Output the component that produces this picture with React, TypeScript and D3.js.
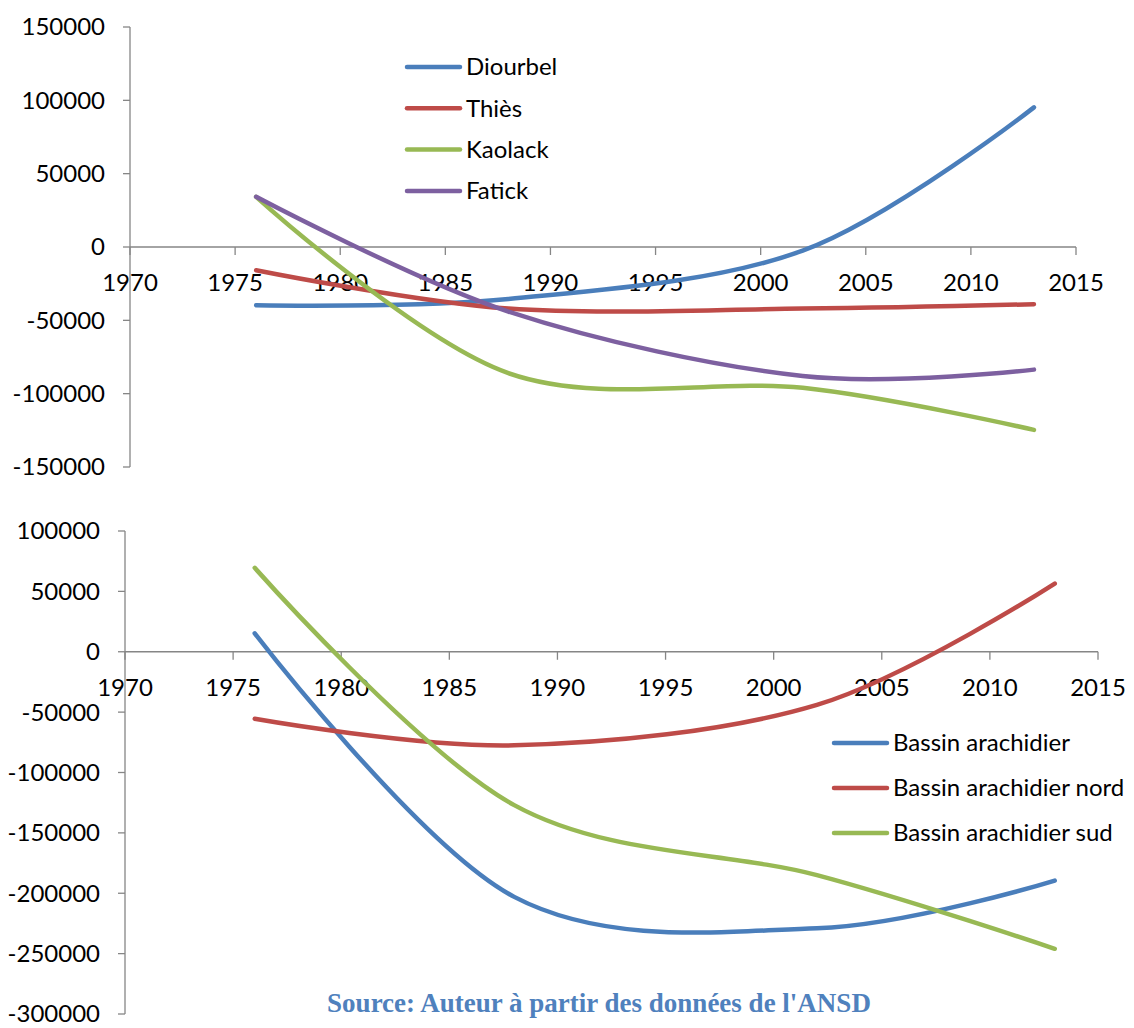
import * as React from 'react';
import { scaleLinear, line as d3line, curveCardinal } from 'd3';

// census years
const years = [1976, 1988, 2002, 2013];

// top panel: regions
const diourbel = [-39700, -35500, -2500, 95200];
const thies = [-15800, -42000, -42000, -39000];
const kaolack = [34200, -86000, -96000, -124700];
const fatick = [34200, -44000, -88000, -83600];

// bottom panel: basins
const bassin = [15300, -203000, -229000, -189500];
const bassinNord = [-55500, -77500, -44000, 56500];
const bassinSud = [69500, -127000, -185000, -246000];

const xTicks = [1970, 1975, 1980, 1985, 1990, 1995, 2000, 2005, 2010, 2015];
const topYTicks = [150000, 100000, 50000, 0, -50000, -100000, -150000];
const bottomYTicks = [100000, 50000, 0, -50000, -100000, -150000, -200000, -250000, -300000];

const BLUE = '#4a7ebb';
const RED = '#be4b48';
const GREEN = '#98b954';
const PURPLE = '#7d60a0';

const AXIS = '#868686';
const FONT = 'Lato, "Open Sans", sans-serif';
const FS = 24;

interface Series { name: string; values: number[]; color: string }

interface PanelProps {
  series: Series[];
  yDomain: [number, number];
  yRange: [number, number];
  xRange: [number, number];
  yTicks: number[];
  legendX: number;
  legendY: number;
  legendStep: number;
}

function Panel({ series, yDomain, yRange, xRange, yTicks, legendX, legendY, legendStep }: PanelProps) {
  const x = scaleLinear().domain([1970, 2015]).range(xRange);
  const y = scaleLinear().domain(yDomain).range(yRange);
  const x0 = x(1970);
  const y0 = y(0);
  const path = d3line<number>()
    .x((_, i) => x(years[i]))
    .y(v => y(v))
    .curve(curveCardinal.tension(0));

  return (
    <g>
      {/* value axis */}
      <line x1={x0} x2={x0} y1={y(yDomain[0])} y2={y(yDomain[1])} stroke={AXIS} strokeWidth={1.3} />
      {yTicks.map(t => (
        <g key={t}>
          <line x1={x0 - 7} x2={x0} y1={y(t)} y2={y(t)} stroke={AXIS} strokeWidth={1.3} />
          <text x={x0 - 25} y={y(t)} dy="0.35em" textAnchor="end" fontSize={FS} fontFamily={FONT}>{t}</text>
        </g>
      ))}
      {/* year axis at zero */}
      <line x1={x0} x2={x(2015)} y1={y0} y2={y0} stroke={AXIS} strokeWidth={1.3} />
      {xTicks.map(t => (
        <g key={t}>
          <line x1={x(t)} x2={x(t)} y1={y0} y2={y0 + 8} stroke={AXIS} strokeWidth={1.3} />
          <text x={x(t)} y={y0 + 36} dy="0.35em" textAnchor="middle" fontSize={FS} fontFamily={FONT}>{t}</text>
        </g>
      ))}
      {series.map(s => (
        <path key={s.name} d={path(s.values) ?? ''} fill="none" stroke={s.color}
          strokeWidth={4.5} strokeLinecap="round" strokeLinejoin="round" />
      ))}
      {series.map((s, i) => (
        <g key={s.name} transform={`translate(${legendX},${legendY + i * legendStep})`}>
          <line x1={0} x2={53} y1={0} y2={0} stroke={s.color} strokeWidth={4.5} strokeLinecap="round" />
          <text x={59} y={0} dy="0.35em" fontSize={FS} fontFamily={FONT}>{s.name}</text>
        </g>
      ))}
    </g>
  );
}

export default function App() {
  const topSeries: Series[] = [
    { name: 'Diourbel', values: diourbel, color: BLUE },
    { name: 'Thiès', values: thies, color: RED },
    { name: 'Kaolack', values: kaolack, color: GREEN },
    { name: 'Fatick', values: fatick, color: PURPLE },
  ];
  const bottomSeries: Series[] = [
    { name: 'Bassin arachidier', values: bassin, color: BLUE },
    { name: 'Bassin arachidier nord', values: bassinNord, color: RED },
    { name: 'Bassin arachidier sud', values: bassinSud, color: GREEN },
  ];

  return (
    <svg width={1134} height={1028} style={{ position: 'absolute', left: 0, top: 0, background: '#fff' }}>
      <Panel series={topSeries} yDomain={[-150000, 150000]} yRange={[467, 27]} xRange={[130, 1076]}
        yTicks={topYTicks} legendX={407} legendY={67} legendStep={41.3} />
      <Panel series={bottomSeries} yDomain={[-300000, 100000]} yRange={[1014, 531]} xRange={[125, 1098]}
        yTicks={bottomYTicks} legendX={834} legendY={743} legendStep={45} />
      <text x={599} y={1012} textAnchor="middle" fontSize={27} fontWeight="bold"
        fontFamily='"Times New Roman", "Liberation Serif", serif' fill="#4f81bd">
        Source: Auteur à partir des données de l'ANSD
      </text>
    </svg>
  );
}
